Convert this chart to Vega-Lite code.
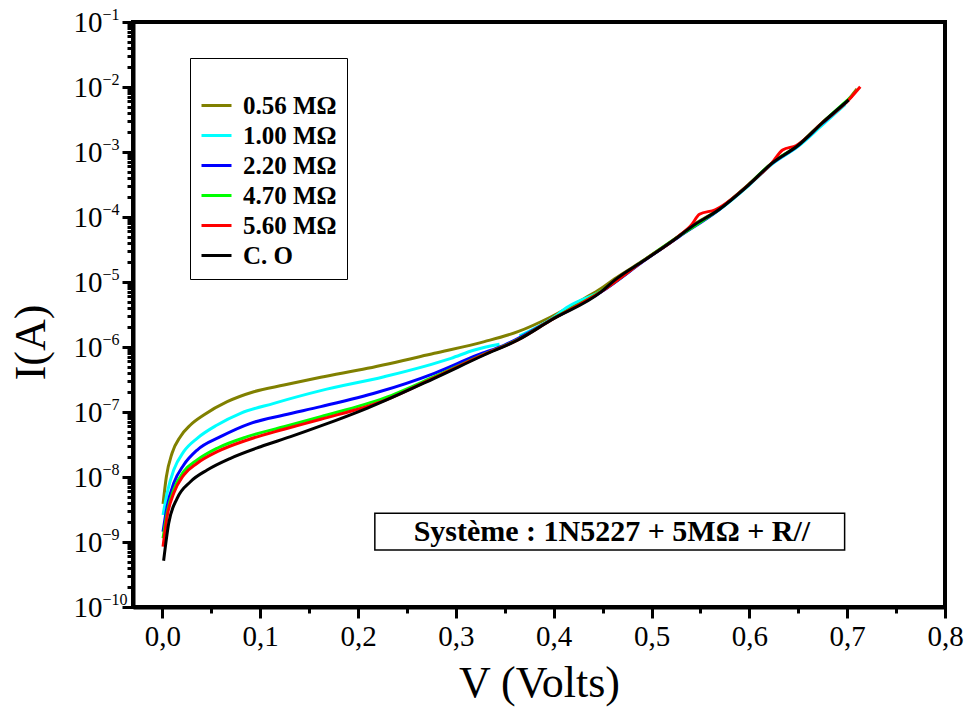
{
  "$schema": "https://vega.github.io/schema/vega-lite/v6.json",
  "width": 812,
  "height": 585,
  "autosize": {"type": "none"},
  "padding": {"left": 133, "top": 22, "right": 23, "bottom": 106},
  "background": "white",
  "config": {
    "view": {"stroke": "black", "strokeWidth": 4},
    "font": "Liberation Serif"
  },
  "layer": [
    {
      "data": {
        "values": [
          {"R": "0.56 MΩ", "s": 1, "V": 0.0007, "I": 3.85e-9},
          {"R": "0.56 MΩ", "s": 1, "V": 0.0041, "I": 1.01e-8},
          {"R": "0.56 MΩ", "s": 1, "V": 0.0099, "I": 2.32e-8},
          {"R": "0.56 MΩ", "s": 1, "V": 0.0184, "I": 4.17e-8},
          {"R": "0.56 MΩ", "s": 1, "V": 0.0287, "I": 6.31e-8},
          {"R": "0.56 MΩ", "s": 1, "V": 0.0423, "I": 8.99e-8},
          {"R": "0.56 MΩ", "s": 1, "V": 0.0663, "I": 1.44e-7},
          {"R": "0.56 MΩ", "s": 1, "V": 0.0935, "I": 2.05e-7},
          {"R": "0.56 MΩ", "s": 1, "V": 0.1243, "I": 2.60e-7},
          {"R": "0.56 MΩ", "s": 1, "V": 0.1619, "I": 3.42e-7},
          {"R": "0.56 MΩ", "s": 1, "V": 0.2097, "I": 4.70e-7},
          {"R": "0.56 MΩ", "s": 1, "V": 0.278, "I": 8.00e-7},
          {"R": "0.56 MΩ", "s": 1, "V": 0.3292, "I": 1.21e-6},
          {"R": "0.56 MΩ", "s": 1, "V": 0.3634, "I": 1.72e-6},
          {"R": "0.56 MΩ", "s": 1, "V": 0.3975, "I": 2.92e-6},
          {"R": "0.56 MΩ", "s": 1, "V": 0.4317, "I": 5.61e-6},
          {"R": "0.56 MΩ", "s": 1, "V": 0.4488, "I": 8.00e-6},
          {"R": "0.56 MΩ", "s": 1, "V": 0.4624, "I": 1.12e-5},
          {"R": "0.56 MΩ", "s": 1, "V": 0.4931, "I": 2.21e-5},
          {"R": "0.56 MΩ", "s": 1, "V": 0.5274, "I": 5.01e-5},
          {"R": "0.56 MΩ", "s": 1, "V": 0.541, "I": 7.24e-5},
          {"R": "0.56 MΩ", "s": 1, "V": 0.5683, "I": 1.29e-4},
          {"R": "0.56 MΩ", "s": 1, "V": 0.5991, "I": 3.16e-4},
          {"R": "0.56 MΩ", "s": 1, "V": 0.623, "I": 6.76e-4},
          {"R": "0.56 MΩ", "s": 1, "V": 0.6503, "I": 1.29e-3},
          {"R": "0.56 MΩ", "s": 1, "V": 0.6742, "I": 2.82e-3},
          {"R": "0.56 MΩ", "s": 1, "V": 0.7015, "I": 6.46e-3},
          {"R": "0.56 MΩ", "s": 1, "V": 0.71, "I": 9.33e-3},

          {"R": "1.00 MΩ", "s": 1, "V": 0.0007, "I": 2.60e-9},
          {"R": "1.00 MΩ", "s": 1, "V": 0.0048, "I": 5.61e-9},
          {"R": "1.00 MΩ", "s": 1, "V": 0.0116, "I": 1.28e-8},
          {"R": "1.00 MΩ", "s": 1, "V": 0.0218, "I": 2.45e-8},
          {"R": "1.00 MΩ", "s": 1, "V": 0.0356, "I": 3.94e-8},
          {"R": "1.00 MΩ", "s": 1, "V": 0.056, "I": 6.31e-8},
          {"R": "1.00 MΩ", "s": 1, "V": 0.0799, "I": 9.55e-8},
          {"R": "1.00 MΩ", "s": 1, "V": 0.114, "I": 1.36e-7},
          {"R": "1.00 MΩ", "s": 1, "V": 0.1619, "I": 2.13e-7},
          {"R": "1.00 MΩ", "s": 1, "V": 0.2267, "I": 3.49e-7},
          {"R": "1.00 MΩ", "s": 1, "V": 0.2951, "I": 6.70e-7},
          {"R": "1.00 MΩ", "s": 1, "V": 0.319, "I": 8.99e-7},
          {"R": "1.00 MΩ", "s": 1, "V": 0.3446, "I": 1.10e-6},
          {"R": "1.00 MΩ", "s": 2, "V": 0.3651, "I": 1.48e-6},
          {"R": "1.00 MΩ", "s": 2, "V": 0.3975, "I": 2.69e-6},
          {"R": "1.00 MΩ", "s": 2, "V": 0.4146, "I": 4.17e-6},
          {"R": "1.00 MΩ", "s": 2, "V": 0.4488, "I": 7.24e-6},
          {"R": "1.00 MΩ", "s": 2, "V": 0.4931, "I": 2.19e-5},
          {"R": "1.00 MΩ", "s": 2, "V": 0.5274, "I": 4.90e-5},
          {"R": "1.00 MΩ", "s": 2, "V": 0.541, "I": 6.92e-5},
          {"R": "1.00 MΩ", "s": 2, "V": 0.5683, "I": 1.26e-4},
          {"R": "1.00 MΩ", "s": 2, "V": 0.5991, "I": 3.02e-4},
          {"R": "1.00 MΩ", "s": 2, "V": 0.623, "I": 6.46e-4},
          {"R": "1.00 MΩ", "s": 2, "V": 0.6503, "I": 1.23e-3},
          {"R": "1.00 MΩ", "s": 2, "V": 0.6742, "I": 2.57e-3},
          {"R": "1.00 MΩ", "s": 2, "V": 0.698, "I": 5.37e-3},

          {"R": "2.20 MΩ", "s": 1, "V": 0.0007, "I": 1.44e-9},
          {"R": "2.20 MΩ", "s": 1, "V": 0.0048, "I": 3.49e-9},
          {"R": "2.20 MΩ", "s": 1, "V": 0.0116, "I": 8.00e-9},
          {"R": "2.20 MΩ", "s": 1, "V": 0.0218, "I": 1.53e-8},
          {"R": "2.20 MΩ", "s": 1, "V": 0.0356, "I": 2.60e-8},
          {"R": "2.20 MΩ", "s": 1, "V": 0.0594, "I": 4.17e-8},
          {"R": "2.20 MΩ", "s": 1, "V": 0.0902, "I": 6.70e-8},
          {"R": "2.20 MΩ", "s": 1, "V": 0.1243, "I": 8.99e-8},
          {"R": "2.20 MΩ", "s": 1, "V": 0.1619, "I": 1.21e-7},
          {"R": "2.20 MΩ", "s": 1, "V": 0.22, "I": 2.01e-7},
          {"R": "2.20 MΩ", "s": 1, "V": 0.278, "I": 3.94e-7},
          {"R": "2.20 MΩ", "s": 1, "V": 0.3224, "I": 7.53e-7},
          {"R": "2.20 MΩ", "s": 1, "V": 0.3497, "I": 1.07e-6},
          {"R": "2.20 MΩ", "s": 1, "V": 0.3975, "I": 2.63e-6},
          {"R": "2.20 MΩ", "s": 1, "V": 0.4488, "I": 7.08e-6},
          {"R": "2.20 MΩ", "s": 1, "V": 0.4931, "I": 2.16e-5},
          {"R": "2.20 MΩ", "s": 1, "V": 0.5274, "I": 4.90e-5},
          {"R": "2.20 MΩ", "s": 1, "V": 0.5683, "I": 1.27e-4},
          {"R": "2.20 MΩ", "s": 1, "V": 0.5991, "I": 3.09e-4},
          {"R": "2.20 MΩ", "s": 1, "V": 0.623, "I": 6.61e-4},
          {"R": "2.20 MΩ", "s": 1, "V": 0.6503, "I": 1.27e-3},
          {"R": "2.20 MΩ", "s": 1, "V": 0.6742, "I": 2.72e-3},
          {"R": "2.20 MΩ", "s": 1, "V": 0.70, "I": 6.03e-3},

          {"R": "4.70 MΩ", "s": 1, "V": 0.0007, "I": 1.14e-9},
          {"R": "4.70 MΩ", "s": 1, "V": 0.0048, "I": 2.77e-9},
          {"R": "4.70 MΩ", "s": 1, "V": 0.0116, "I": 6.31e-9},
          {"R": "4.70 MΩ", "s": 1, "V": 0.0218, "I": 1.21e-8},
          {"R": "4.70 MΩ", "s": 1, "V": 0.0356, "I": 1.83e-8},
          {"R": "4.70 MΩ", "s": 1, "V": 0.056, "I": 2.77e-8},
          {"R": "4.70 MΩ", "s": 1, "V": 0.0868, "I": 4.17e-8},
          {"R": "4.70 MΩ", "s": 1, "V": 0.1243, "I": 5.94e-8},
          {"R": "4.70 MΩ", "s": 1, "V": 0.1619, "I": 8.47e-8},
          {"R": "4.70 MΩ", "s": 1, "V": 0.2267, "I": 1.63e-7},
          {"R": "4.70 MΩ", "s": 1, "V": 0.278, "I": 3.49e-7},
          {"R": "4.70 MΩ", "s": 1, "V": 0.329, "I": 7.76e-7},
          {"R": "4.70 MΩ", "s": 1, "V": 0.3634, "I": 1.30e-6},
          {"R": "4.70 MΩ", "s": 1, "V": 0.3975, "I": 2.63e-6},
          {"R": "4.70 MΩ", "s": 1, "V": 0.4488, "I": 7.24e-6},
          {"R": "4.70 MΩ", "s": 1, "V": 0.4931, "I": 2.21e-5},
          {"R": "4.70 MΩ", "s": 1, "V": 0.5274, "I": 5.01e-5},
          {"R": "4.70 MΩ", "s": 1, "V": 0.5683, "I": 1.29e-4},
          {"R": "4.70 MΩ", "s": 1, "V": 0.5991, "I": 3.13e-4},
          {"R": "4.70 MΩ", "s": 1, "V": 0.623, "I": 6.76e-4},
          {"R": "4.70 MΩ", "s": 1, "V": 0.6503, "I": 1.29e-3},
          {"R": "4.70 MΩ", "s": 1, "V": 0.6742, "I": 2.79e-3},
          {"R": "4.70 MΩ", "s": 1, "V": 0.705, "I": 7.24e-3},

          {"R": "5.60 MΩ", "s": 1, "V": 0.0007, "I": 8.47e-10},
          {"R": "5.60 MΩ", "s": 1, "V": 0.0048, "I": 2.45e-9},
          {"R": "5.60 MΩ", "s": 1, "V": 0.0116, "I": 5.61e-9},
          {"R": "5.60 MΩ", "s": 1, "V": 0.0218, "I": 1.07e-8},
          {"R": "5.60 MΩ", "s": 1, "V": 0.0356, "I": 1.63e-8},
          {"R": "5.60 MΩ", "s": 1, "V": 0.056, "I": 2.45e-8},
          {"R": "5.60 MΩ", "s": 1, "V": 0.0868, "I": 3.71e-8},
          {"R": "5.60 MΩ", "s": 1, "V": 0.1243, "I": 5.42e-8},
          {"R": "5.60 MΩ", "s": 1, "V": 0.1619, "I": 7.73e-8},
          {"R": "5.60 MΩ", "s": 1, "V": 0.2267, "I": 1.50e-7},
          {"R": "5.60 MΩ", "s": 1, "V": 0.278, "I": 3.39e-7},
          {"R": "5.60 MΩ", "s": 1, "V": 0.329, "I": 7.67e-7},
          {"R": "5.60 MΩ", "s": 1, "V": 0.3634, "I": 1.29e-6},
          {"R": "5.60 MΩ", "s": 1, "V": 0.3975, "I": 2.61e-6},
          {"R": "5.60 MΩ", "s": 1, "V": 0.4488, "I": 7.13e-6},
          {"R": "5.60 MΩ", "s": 1, "V": 0.4931, "I": 2.19e-5},
          {"R": "5.60 MΩ", "s": 1, "V": 0.5274, "I": 5.01e-5},
          {"R": "5.60 MΩ", "s": 1, "V": 0.541, "I": 7.59e-5},
          {"R": "5.60 MΩ", "s": 1, "V": 0.549, "I": 1.10e-4},
          {"R": "5.60 MΩ", "s": 1, "V": 0.565, "I": 1.29e-4},
          {"R": "5.60 MΩ", "s": 1, "V": 0.5991, "I": 3.13e-4},
          {"R": "5.60 MΩ", "s": 1, "V": 0.623, "I": 6.76e-4},
          {"R": "5.60 MΩ", "s": 1, "V": 0.634, "I": 1.07e-3},
          {"R": "5.60 MΩ", "s": 1, "V": 0.648, "I": 1.26e-3},
          {"R": "5.60 MΩ", "s": 1, "V": 0.6742, "I": 2.79e-3},
          {"R": "5.60 MΩ", "s": 1, "V": 0.7015, "I": 6.31e-3},
          {"R": "5.60 MΩ", "s": 1, "V": 0.7134, "I": 1.01e-2},

          {"R": "C. O", "s": 1, "V": 0.0013, "I": 5.15e-10},
          {"R": "C. O", "s": 1, "V": 0.0065, "I": 1.94e-9},
          {"R": "C. O", "s": 1, "V": 0.0151, "I": 4.70e-9},
          {"R": "C. O", "s": 1, "V": 0.0287, "I": 8.47e-9},
          {"R": "C. O", "s": 1, "V": 0.0458, "I": 1.28e-8},
          {"R": "C. O", "s": 1, "V": 0.0697, "I": 1.94e-8},
          {"R": "C. O", "s": 1, "V": 0.1004, "I": 2.92e-8},
          {"R": "C. O", "s": 1, "V": 0.1311, "I": 4.17e-8},
          {"R": "C. O", "s": 1, "V": 0.1619, "I": 6.10e-8},
          {"R": "C. O", "s": 1, "V": 0.2097, "I": 1.15e-7},
          {"R": "C. O", "s": 1, "V": 0.278, "I": 3.30e-7},
          {"R": "C. O", "s": 1, "V": 0.329, "I": 7.53e-7},
          {"R": "C. O", "s": 1, "V": 0.3634, "I": 1.28e-6},
          {"R": "C. O", "s": 1, "V": 0.3975, "I": 2.60e-6},
          {"R": "C. O", "s": 1, "V": 0.4488, "I": 7.10e-6},
          {"R": "C. O", "s": 1, "V": 0.4624, "I": 1.07e-5},
          {"R": "C. O", "s": 1, "V": 0.4931, "I": 2.18e-5},
          {"R": "C. O", "s": 1, "V": 0.5274, "I": 4.98e-5},
          {"R": "C. O", "s": 1, "V": 0.541, "I": 7.10e-5},
          {"R": "C. O", "s": 1, "V": 0.5683, "I": 1.28e-4},
          {"R": "C. O", "s": 1, "V": 0.5991, "I": 3.10e-4},
          {"R": "C. O", "s": 1, "V": 0.623, "I": 6.70e-4},
          {"R": "C. O", "s": 1, "V": 0.6503, "I": 1.28e-3},
          {"R": "C. O", "s": 1, "V": 0.6742, "I": 2.77e-3},
          {"R": "C. O", "s": 1, "V": 0.7015, "I": 6.31e-3}
        ]
      },
      "mark": {"type": "line", "strokeWidth": 3, "interpolate": "monotone"},
      "encoding": {
        "x": {
          "field": "V", "type": "quantitative",
          "scale": {"domain": [-0.03, 0.8], "nice": false, "zero": false},
          "axis": {
            "title": "V (Volts)",
            "titleFont": "Liberation Serif", "titleFontSize": 44, "titleFontWeight": "normal", "titleColor": "black",
            "titlePadding": 10,
            "values": [0, 0.05, 0.1, 0.15, 0.2, 0.25, 0.3, 0.35, 0.4, 0.45, 0.5, 0.55, 0.6, 0.65, 0.7, 0.75, 0.8],
            "labelExpr": "abs(datum.value*10 - round(datum.value*10)) < 0.01 ? replace(format(datum.value, '.1f'), '.', ',') : ''",
            "labelFont": "Liberation Serif", "labelFontSize": 29, "labelColor": "black",
            "labelFlush": false, "labelOverlap": false, "labelBound": false, "labelPadding": 4,
            "grid": false,
            "domainColor": "black", "domainWidth": 4,
            "tickColor": "black", "tickWidth": 3,
            "tickSize": {"condition": {"test": "abs(datum.value*10 - round(datum.value*10)) < 0.01", "value": 11}, "value": 6}
          }
        },
        "y": {
          "field": "I", "type": "quantitative",
          "scale": {"type": "log", "domain": [1e-10, 0.1], "nice": false},
          "axis": {
            "orient": "left",
            "title": "I(A)",
            "titleFont": "Liberation Serif", "titleFontSize": 44, "titleFontWeight": "normal", "titleColor": "black",
            "titleX": -80, "titleY": 320,
            "values": [1e-10,2e-10,3e-10,4e-10,5e-10,6e-10,7e-10,8e-10,9e-10,
                       1e-9,2e-9,3e-9,4e-9,5e-9,6e-9,7e-9,8e-9,9e-9,
                       1e-8,2e-8,3e-8,4e-8,5e-8,6e-8,7e-8,8e-8,9e-8,
                       1e-7,2e-7,3e-7,4e-7,5e-7,6e-7,7e-7,8e-7,9e-7,
                       1e-6,2e-6,3e-6,4e-6,5e-6,6e-6,7e-6,8e-6,9e-6,
                       1e-5,2e-5,3e-5,4e-5,5e-5,6e-5,7e-5,8e-5,9e-5,
                       1e-4,2e-4,3e-4,4e-4,5e-4,6e-4,7e-4,8e-4,9e-4,
                       1e-3,2e-3,3e-3,4e-3,5e-3,6e-3,7e-3,8e-3,9e-3,
                       1e-2,2e-2,3e-2,4e-2,5e-2,6e-2,7e-2,8e-2,9e-2,
                       1e-1],
            "labels": false,
            "grid": false,
            "domainColor": "black", "domainWidth": 4,
            "tickColor": "black", "tickWidth": 3,
            "tickSize": {"condition": {"test": "abs(log(datum.value)/LN10 - round(log(datum.value)/LN10)) < 0.01", "value": 11}, "value": 6}
          }
        },
        "color": {
          "field": "R", "type": "nominal",
          "scale": {
            "domain": ["0.56 MΩ", "1.00 MΩ", "2.20 MΩ", "4.70 MΩ", "5.60 MΩ", "C. O"],
            "range": ["#808000", "#00FFFF", "#0000FF", "#00FF00", "#FF0000", "#000000"]
          },
          "legend": {
            "orient": "none", "legendX": 57, "legendY": 36,
            "title": " ", "titleFontSize": 13, "titlePadding": 8,
            "symbolType": "stroke", "symbolSize": 900, "symbolStrokeWidth": 3,
            "labelFont": "Liberation Serif", "labelFontWeight": "bold", "labelFontSize": 25, "labelColor": "black",
            "labelOffset": 10, "rowPadding": 0,
            "padding": 10, "strokeColor": "black", "fillColor": "white"
          }
        },
        "detail": {"field": "s", "type": "nominal"}
      }
    },
    {
      "data": {"values": [{}]},
      "mark": {"type": "rect", "fill": "white", "stroke": "black", "strokeWidth": 1.5},
      "encoding": {
        "x": {"datum": 0.2172, "type": "quantitative", "axis": null},
        "x2": {"datum": 0.6974},
        "y": {
          "datum": 2.77e-9, "type": "quantitative",
          "axis": {
            "orient": "left", "title": null, "domain": false, "grid": false,
            "ticks": false, "tickSize": 0,
            "values": [1e-10, 1e-9, 1e-8, 1e-7, 1e-6, 1e-5, 1e-4, 1e-3, 1e-2, 1e-1],
            "labelExpr": "'10'",
            "labelFont": "Liberation Serif", "labelFontSize": 29, "labelColor": "black",
            "labelAlign": "right", "labelBaseline": "middle",
            "labelFlush": false, "labelOverlap": false, "labelBound": false, "labelPadding": 31
          }
        },
        "y2": {"datum": 7.53e-10}
      }
    },
    {
      "data": {"values": [{}]},
      "mark": {"type": "text", "font": "Liberation Serif", "fontWeight": "bold", "fontSize": 30, "color": "black", "align": "center", "baseline": "middle"},
      "encoding": {
        "x": {"datum": 0.4595, "type": "quantitative", "axis": null},
        "y": {
          "datum": 1.44e-9, "type": "quantitative",
          "axis": {
            "orient": "left", "title": null, "domain": false, "grid": false,
            "ticks": false, "tickSize": 0,
            "values": [1e-10, 1e-9, 1e-8, 1e-7, 1e-6, 1e-5, 1e-4, 1e-3, 1e-2, 1e-1],
            "labelExpr": "format(round(log(datum.value)/LN10), 'd')",
            "labelFont": "Liberation Serif", "labelFontSize": 16, "labelColor": "black",
            "labelAlign": "left", "labelBaseline": "middle", "labelOffset": -8,
            "labelFlush": false, "labelOverlap": false, "labelBound": false, "labelPadding": 31
          }
        },
        "text": {"value": "Système : 1N5227 + 5MΩ + R//"}
      }
    }
  ],
  "resolve": {"axis": {"x": "independent", "y": "independent"}}
}
